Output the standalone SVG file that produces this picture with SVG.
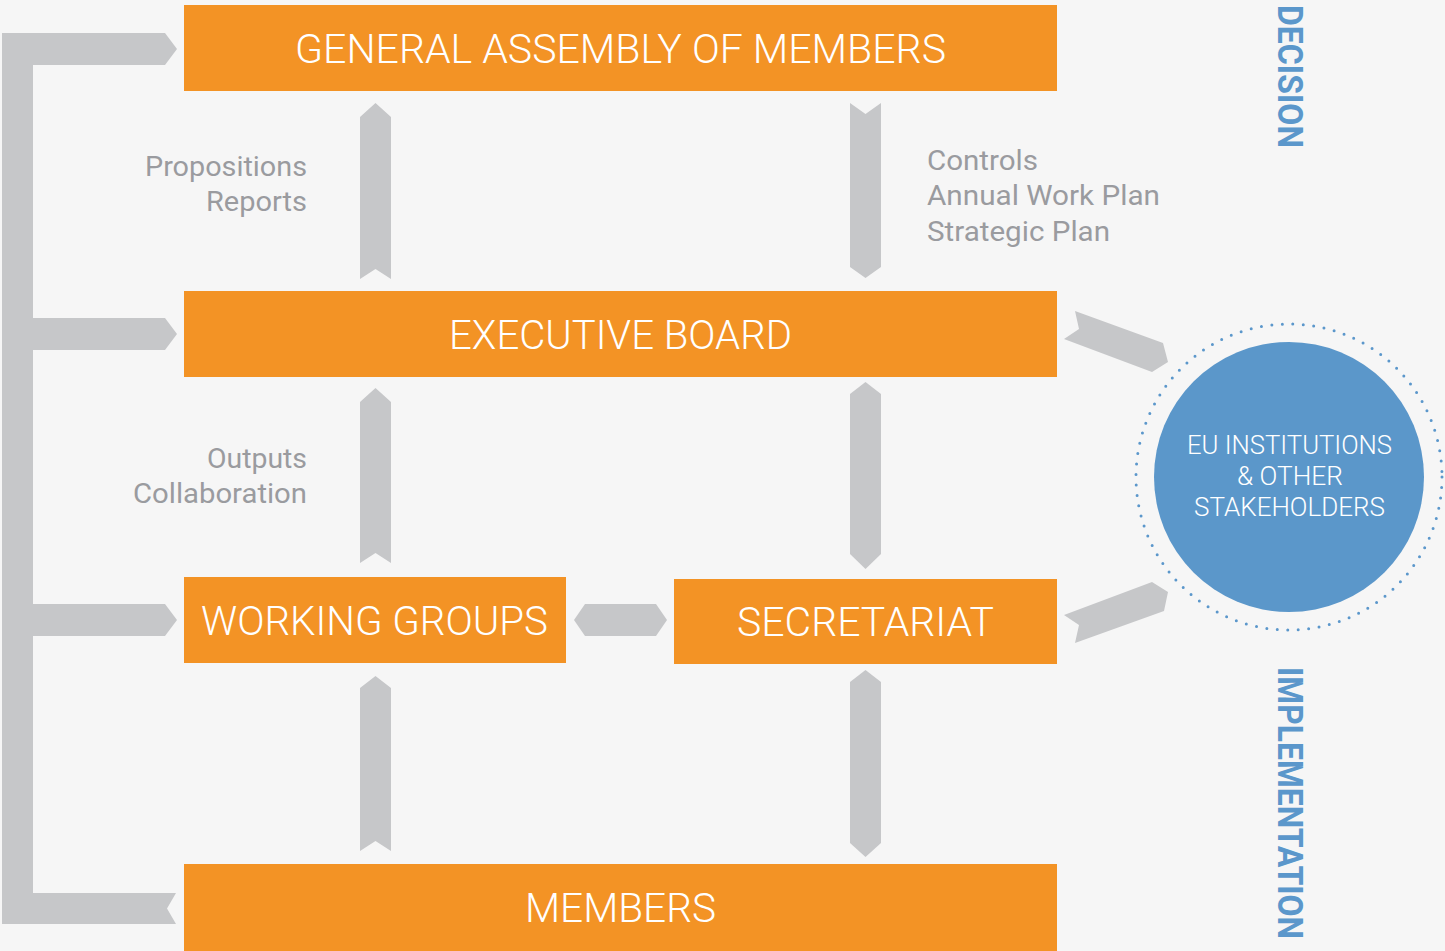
<svg xmlns="http://www.w3.org/2000/svg" width="1445" height="951" viewBox="0 0 1445 951">
  <style>
    .box { fill: #F39325; }
    .boxtxt { font-family: Roboto, "Liberation Sans", sans-serif; font-weight: 300; font-size: 41px; fill: #FFFFFF; text-anchor: middle; }
    .lbl { font-family: Roboto, "Liberation Sans", sans-serif; font-weight: 400; font-size: 27px; fill: #9A9B9F; }
    .arrow { fill: #C6C7C9; }
    .side { font-family: Roboto, "Liberation Sans", sans-serif; font-weight: 700; font-size: 35px; fill: #5B97CB; }
    .circtxt { font-family: Roboto, "Liberation Sans", sans-serif; font-weight: 300; font-size: 26px; fill: #FFFFFF; text-anchor: middle; }
  </style>
  <rect x="0" y="0" width="1445" height="951" fill="#F6F6F6"/>

  <g id="connectors">
    <path class="arrow" d="M2,33 L165,33 L177,49 L165,65 L33,65 L33,318 L165,318 L177,334 L165,350 L33,350 L33,604 L165,604 L177,620 L165,636 L33,636 L33,893 L176,893 L167,908.5 L176,924 L2,924 Z"/>
    <polygon class="arrow" points="375.5,103 391,117 391,279 375.5,269 360,279 360,117"/>
    <polygon class="arrow" points="375.5,388 391,402 391,563 375.5,553 360,563 360,402"/>
    <polygon class="arrow" points="375.5,676 391,688 391,851 375.5,841 360,851 360,688"/>
    <polygon class="arrow" points="850,103 865.5,114 881,103 881,267 865.5,278 850,267"/>
    <polygon class="arrow" points="865.5,382 881,394 881,554 865.5,569 850,554 850,394"/>
    <polygon class="arrow" points="865.5,670 881,682 881,843 865.5,857 850,843 850,682"/>
    <polygon class="arrow" points="574,620 585,604 656,604 667,620 656,636 585,636"/>
    <polygon class="arrow" points="1075,311 1163,343 1168,362 1152,372 1064,339 1079,329"/>
    <polygon class="arrow" points="1064,615 1152,582 1168,592 1164,611 1075,643 1079,625"/>
  </g>

  <g id="general-assembly">
    <rect class="box" x="184" y="5" width="873" height="86"/>
    <text class="boxtxt" x="620.5" y="62.5" textLength="651" lengthAdjust="spacingAndGlyphs">GENERAL ASSEMBLY OF MEMBERS</text>
  </g>
  <g id="executive-board">
    <rect class="box" x="184" y="291" width="873" height="86"/>
    <text class="boxtxt" x="620.5" y="348.5" textLength="343" lengthAdjust="spacingAndGlyphs">EXECUTIVE BOARD</text>
  </g>
  <g id="working-groups">
    <rect class="box" x="184" y="577" width="382" height="86"/>
    <text class="boxtxt" x="374.5" y="634.5" textLength="347" lengthAdjust="spacingAndGlyphs">WORKING GROUPS</text>
  </g>
  <g id="secretariat">
    <rect class="box" x="674" y="579" width="383" height="85"/>
    <text class="boxtxt" x="865.5" y="636" textLength="257" lengthAdjust="spacingAndGlyphs">SECRETARIAT</text>
  </g>
  <g id="members">
    <rect class="box" x="184" y="864" width="873" height="87"/>
    <text class="boxtxt" x="620.5" y="921.5" textLength="191" lengthAdjust="spacingAndGlyphs">MEMBERS</text>
  </g>

  <g id="labels">
    <text class="lbl" x="145" y="176" textLength="162" lengthAdjust="spacingAndGlyphs">Propositions</text>
    <text class="lbl" x="206" y="211" textLength="101" lengthAdjust="spacingAndGlyphs">Reports</text>
    <text class="lbl" x="207" y="468" textLength="100" lengthAdjust="spacingAndGlyphs">Outputs</text>
    <text class="lbl" x="133" y="503" textLength="174" lengthAdjust="spacingAndGlyphs">Collaboration</text>
    <text class="lbl" x="927" y="170" textLength="111" lengthAdjust="spacingAndGlyphs">Controls</text>
    <text class="lbl" x="927" y="205" textLength="233" lengthAdjust="spacingAndGlyphs">Annual Work Plan</text>
    <text class="lbl" x="927" y="241" textLength="183" lengthAdjust="spacingAndGlyphs">Strategic Plan</text>
  </g>

  <g id="stakeholders">
    <circle cx="1289" cy="477" r="153" fill="none" stroke="#5B97CB" stroke-width="3" stroke-linecap="round" stroke-dasharray="0 10.5"/>
    <circle cx="1289" cy="477" r="135" fill="#5B97CA"/>
    <text class="circtxt" x="1289.5" y="454" textLength="205" lengthAdjust="spacingAndGlyphs">EU INSTITUTIONS</text>
    <text class="circtxt" x="1290" y="485" textLength="106" lengthAdjust="spacingAndGlyphs">&amp; OTHER</text>
    <text class="circtxt" x="1289.5" y="516" textLength="191" lengthAdjust="spacingAndGlyphs">STAKEHOLDERS</text>
  </g>

  <g id="side-labels">
    <text class="side" transform="translate(1278,5) rotate(90)" textLength="143" lengthAdjust="spacingAndGlyphs">DECISION</text>
    <text class="side" transform="translate(1278,667) rotate(90)" textLength="272" lengthAdjust="spacingAndGlyphs">IMPLEMENTATION</text>
  </g>
</svg>
